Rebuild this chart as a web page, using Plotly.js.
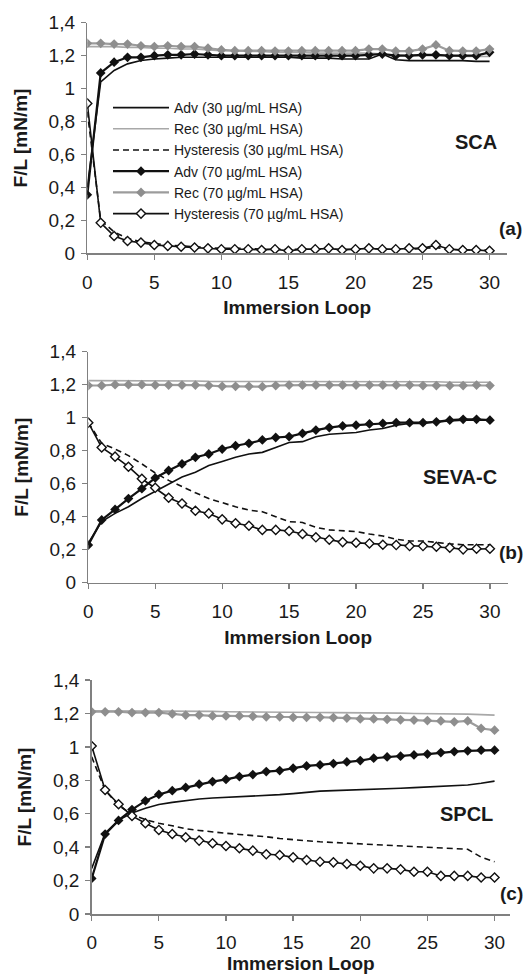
<!DOCTYPE html>
<html>
<head>
<meta charset="utf-8">
<script src="https://cdn.plot.ly/plotly-3.0.1.min.js"></script>
<style>html,body{margin:0;padding:0;background:#fff;}#chart{width:528px;height:974px;}</style>
</head>
<body>
<div id="chart"></div>
<script>
const loops = [0,1,2,3,4,5,6,7,8,9,10,11,12,13,14,15,16,17,18,19,20,21,22,23,24,25,26,27,28,29,30];

const seriesNames = ['Adv (30 µg/mL HSA)','Rec (30 µg/mL HSA)','Hysteresis (30 µg/mL HSA)','Adv (70 µg/mL HSA)','Rec (70 µg/mL HSA)','Hysteresis (70 µg/mL HSA)'];
const panelLabels = ['SCA','SEVA-C','SPCL'];
const panelLetters = ['(a)','(b)','(c)'];
const yTickVals = [0,0.2,0.4,0.6,0.8,1,1.2,1.4];
const yTickText = ['0','0,2','0,4','0,6','0,8','1','1,2','1,4'];
const xTickVals = [0,5,10,15,20,25,30];
const xTickText = ['0','5','10','15','20','25','30'];

// Panel (a) SCA
const a_adv30 = [0.40,1.04,1.11,1.15,1.17,1.18,1.185,1.19,1.19,1.19,1.19,1.19,1.19,1.19,1.19,1.19,1.185,1.185,1.185,1.18,1.18,1.18,1.21,1.175,1.17,1.17,1.17,1.17,1.17,1.165,1.165];
const a_rec30 = [1.255,1.255,1.255,1.25,1.25,1.245,1.245,1.24,1.24,1.235,1.23,1.23,1.225,1.225,1.22,1.22,1.22,1.215,1.215,1.215,1.215,1.215,1.21,1.205,1.2,1.2,1.2,1.2,1.195,1.195,1.195];
const a_hys30 = [0.86,0.20,0.13,0.09,0.07,0.06,0.05,0.045,0.04,0.035,0.03,0.03,0.03,0.025,0.025,0.025,0.025,0.025,0.025,0.025,0.025,0.03,0.025,0.025,0.025,0.03,0.035,0.025,0.02,0.02,0.02];
const a_adv70 = [0.355,1.095,1.16,1.19,1.19,1.2,1.205,1.205,1.21,1.205,1.2,1.2,1.2,1.2,1.2,1.2,1.2,1.2,1.2,1.2,1.2,1.205,1.21,1.2,1.2,1.205,1.205,1.2,1.2,1.2,1.22];
const a_rec70 = [1.275,1.275,1.27,1.27,1.26,1.255,1.26,1.255,1.255,1.245,1.235,1.23,1.23,1.23,1.228,1.228,1.23,1.23,1.23,1.23,1.23,1.24,1.24,1.228,1.228,1.24,1.265,1.23,1.228,1.228,1.24];
const a_hys70 = [0.91,0.185,0.105,0.075,0.065,0.05,0.045,0.04,0.035,0.03,0.025,0.025,0.025,0.02,0.025,0.015,0.025,0.025,0.03,0.02,0.025,0.03,0.025,0.025,0.03,0.03,0.05,0.025,0.02,0.02,0.015];

// Panel (b) SEVA-C
const b_adv30 = [0.24,0.37,0.42,0.46,0.51,0.555,0.6,0.64,0.67,0.71,0.735,0.76,0.78,0.79,0.82,0.85,0.855,0.885,0.9,0.905,0.91,0.925,0.935,0.955,0.965,0.965,0.975,0.98,0.985,0.985,0.985];
const b_rec30 = [1.225,1.225,1.225,1.225,1.225,1.225,1.222,1.222,1.222,1.22,1.22,1.22,1.22,1.22,1.22,1.22,1.22,1.22,1.22,1.22,1.22,1.22,1.218,1.218,1.218,1.218,1.218,1.215,1.215,1.215,1.215];
const b_hys30 = [0.97,0.845,0.81,0.77,0.72,0.665,0.62,0.58,0.545,0.51,0.485,0.46,0.44,0.43,0.4,0.37,0.365,0.335,0.32,0.315,0.31,0.295,0.283,0.263,0.253,0.253,0.243,0.235,0.23,0.23,0.23];
const b_adv70 = [0.228,0.38,0.444,0.51,0.57,0.635,0.68,0.72,0.76,0.78,0.81,0.83,0.845,0.865,0.88,0.885,0.905,0.925,0.94,0.95,0.955,0.962,0.965,0.97,0.97,0.97,0.975,0.985,0.99,0.99,0.985];
const b_rec70 = [1.195,1.195,1.2,1.2,1.2,1.198,1.198,1.198,1.198,1.195,1.19,1.19,1.19,1.188,1.195,1.198,1.198,1.198,1.198,1.198,1.198,1.198,1.198,1.198,1.198,1.195,1.195,1.195,1.195,1.198,1.195];
const b_hys70 = [0.97,0.82,0.764,0.703,0.63,0.575,0.515,0.48,0.436,0.42,0.384,0.36,0.345,0.32,0.32,0.313,0.295,0.275,0.26,0.246,0.242,0.238,0.23,0.228,0.222,0.222,0.218,0.212,0.202,0.206,0.206];

// Panel (c) SPCL
const c_adv30 = [0.273,0.483,0.56,0.605,0.633,0.655,0.668,0.68,0.688,0.694,0.698,0.7,0.703,0.708,0.714,0.72,0.728,0.735,0.738,0.74,0.742,0.745,0.748,0.752,0.756,0.76,0.765,0.77,0.772,0.782,0.795];
const c_rec30 = [1.215,1.215,1.215,1.215,1.215,1.215,1.213,1.213,1.212,1.212,1.21,1.21,1.21,1.21,1.208,1.208,1.206,1.206,1.205,1.205,1.204,1.203,1.202,1.202,1.2,1.2,1.2,1.198,1.196,1.193,1.19];
const c_hys30 = [0.94,0.74,0.65,0.595,0.565,0.543,0.528,0.51,0.5,0.49,0.483,0.476,0.47,0.462,0.452,0.443,0.438,0.432,0.428,0.424,0.419,0.416,0.413,0.41,0.407,0.403,0.398,0.392,0.387,0.34,0.313];
const c_adv70 = [0.213,0.478,0.56,0.625,0.677,0.715,0.738,0.757,0.777,0.792,0.805,0.822,0.834,0.852,0.858,0.872,0.886,0.892,0.9,0.91,0.918,0.932,0.94,0.944,0.952,0.957,0.966,0.972,0.976,0.98,0.98];
const c_rec70 = [1.21,1.21,1.21,1.205,1.205,1.205,1.197,1.19,1.19,1.185,1.185,1.185,1.183,1.18,1.18,1.177,1.177,1.177,1.175,1.172,1.167,1.167,1.165,1.162,1.16,1.157,1.155,1.15,1.155,1.11,1.10];
const c_hys70 = [1.005,0.742,0.657,0.587,0.543,0.503,0.479,0.459,0.439,0.423,0.407,0.393,0.379,0.357,0.353,0.339,0.323,0.313,0.309,0.299,0.289,0.273,0.273,0.267,0.253,0.253,0.228,0.228,0.228,0.218,0.218];

const panels = [
  [a_adv30,a_rec30,a_hys30,a_adv70,a_rec70,a_hys70],
  [b_adv30,b_rec30,b_hys30,b_adv70,b_rec70,b_hys70],
  [c_adv30,c_rec30,c_hys30,c_adv70,c_rec70,c_hys70]
];

const BLACK = '#111111';
const GRAY = '#9c9c9c';
const styles = [
  {mode:'lines', line:{color:BLACK,width:1.6}},
  {mode:'lines', line:{color:'#a8a8a8',width:1.6}},
  {mode:'lines', line:{color:BLACK,width:1.6,dash:'6px,4px'}},
  {mode:'lines+markers', line:{color:BLACK,width:2.2}, marker:{symbol:'diamond',size:7.5,color:BLACK}},
  {mode:'lines+markers', line:{color:GRAY,width:2.2}, marker:{symbol:'diamond',size:7.5,color:'#8e8e8e'}},
  {mode:'lines+markers', line:{color:BLACK,width:1.6}, marker:{symbol:'diamond',size:7,color:'#ffffff',line:{color:BLACK,width:1.4}}}
];

const traces = [];
panels.forEach((p, pi) => {
  const sfx = pi === 0 ? '' : String(pi+1);
  p.forEach((ys, si) => {
    const st = styles[si];
    const t = {
      x: loops, y: ys, type:'scatter', mode: st.mode,
      name: seriesNames[si], line: st.line,
      xaxis: 'x'+sfx, yaxis: 'y'+sfx,
      showlegend: pi === 0, legendgroup: 's'+si
    };
    if (st.marker) t.marker = st.marker;
    traces.push(t);
  });
});

const W = 528, H = 974;
// pixel geometry of each panel: [xLeft, xRight, yBottom(0), yTop(1.4)]
const geom = [
  [87.3, 507, 253.3, 22.7],
  [88.3, 508, 582.7, 351.7],
  [91.7, 510, 914, 680]
];
const xRanges = [[0,31.3],[0,31.35],[0,31.15]];

const FAM = 'Liberation Sans, Arial, sans-serif';
const tickFont = {family:FAM, size:19, color:'#1a1a1a'};
const titleFont = {family:FAM, size:19, color:'#1a1a1a', weight:'bold'};

const layout = {
  width: W, height: H, autosize:false,
  margin:{l:0,r:0,t:0,b:0},
  paper_bgcolor:'#ffffff', plot_bgcolor:'#ffffff',
  showlegend:true,
  legend:{
    x: 108/W, y: 1 - 92/H, xanchor:'left', yanchor:'top',
    bgcolor:'rgba(0,0,0,0)', borderwidth:0,
    font:{family:FAM, size:14, color:'#1a1a1a'},
    tracegroupgap:0, itemwidth:56, traceorder:'normal'
  },
  annotations:[]
};

geom.forEach((g, i) => {
  const sfx = i === 0 ? '' : String(i+1);
  layout['xaxis'+sfx] = {
    domain:[g[0]/W, g[1]/W], range:xRanges[i], anchor:'y'+sfx,
    tickvals:xTickVals, ticktext:xTickText, ticks:'outside', ticklen:5, tickwidth:1.3, tickcolor:'#808080',
    ticklabelstandoff:6,
    showline:true, linecolor:'#808080', linewidth:1.5, showgrid:false, zeroline:false,
    tickfont:tickFont, fixedrange:true,
    title:{text:'Immersion Loop', font:titleFont, standoff:9}
  };
  layout['yaxis'+sfx] = {
    domain:[1 - g[2]/H, 1 - g[3]/H], range:[0,1.4], anchor:'x'+sfx,
    tickvals:yTickVals, ticktext:yTickText, ticks:'outside', ticklen:5, tickwidth:1.3, tickcolor:'#808080',
    ticklabelstandoff:2,
    showline:true, linecolor:'#808080', linewidth:1.5, showgrid:false, zeroline:false,
    tickfont:tickFont, fixedrange:true,
    title:{text:'F/L [mN/m]', font:titleFont, standoff:16}
  };
});

const labelPos = [[476,142],[460,477],[466,814]];
const letterPos = [[510,228],[511,552],[511,893]];
for (let i=0;i<3;i++){
  layout.annotations.push({xref:'paper',yref:'paper',x:labelPos[i][0]/W,y:1-labelPos[i][1]/H,xanchor:'center',yanchor:'middle',showarrow:false,text:panelLabels[i],font:{family:FAM,size:20,color:'#1a1a1a',weight:'bold'}});
  layout.annotations.push({xref:'paper',yref:'paper',x:letterPos[i][0]/W,y:1-letterPos[i][1]/H,xanchor:'center',yanchor:'middle',showarrow:false,text:panelLetters[i],font:{family:FAM,size:19,color:'#1a1a1a',weight:'bold'}});
}

Plotly.newPlot('chart', traces, layout, {displayModeBar:false, staticPlot:true});
</script>
</body>
</html>
